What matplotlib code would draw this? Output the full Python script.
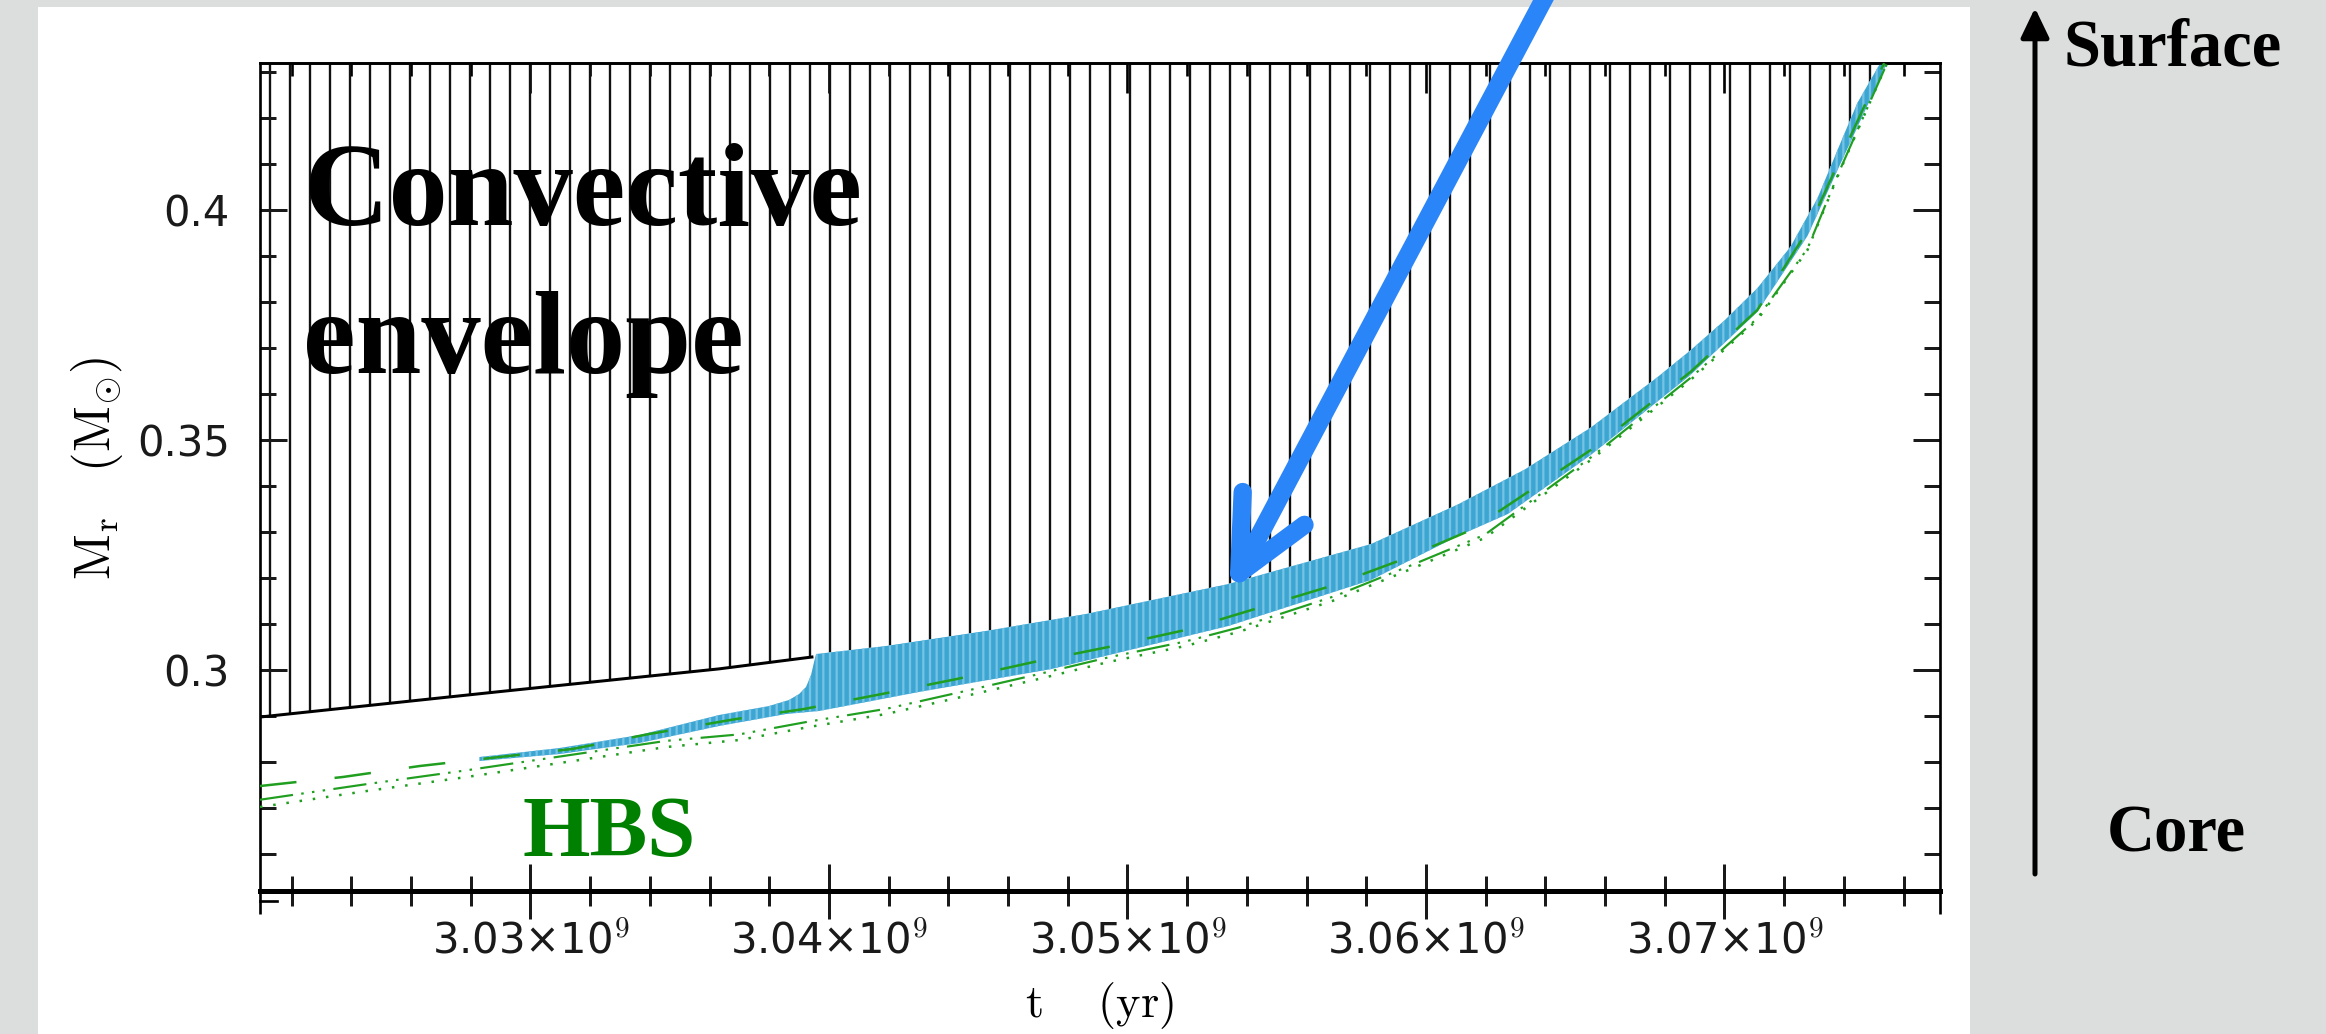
import numpy as np
import matplotlib.pyplot as plt
from matplotlib.ticker import MultipleLocator, FuncFormatter, NullFormatter
from matplotlib.patches import Rectangle, FancyArrowPatch

plt.rcParams['mathtext.fontset'] = 'cm'
plt.rcParams['font.family'] = 'DejaVu Sans'
plt.rcParams['hatch.linewidth'] = 1.4
plt.rcParams['lines.scale_dashes'] = False

# base of the convective envelope (t in Gyr, M_r in Msun)
env_t = [3.02094, 3.02896, 3.03632, 3.03943, 3.03957, 3.04191, 3.04525, 3.04860,
         3.05338, 3.05816, 3.06107, 3.06331, 3.06552, 3.06776, 3.06886, 3.07000,
         3.07110, 3.07221, 3.07311, 3.07388, 3.07445, 3.07522]
env_m = [0.28978, 0.29530, 0.30025, 0.30283, 0.30348, 0.30522, 0.30848, 0.31217,
         0.31870, 0.32739, 0.33600, 0.34360, 0.35270, 0.36370, 0.36950, 0.37600,
         0.38300, 0.39200, 0.40250, 0.41450, 0.42326, 0.43196]

# thin blue band before it joins the envelope base
band_top_t = [3.02829, 3.03097, 3.03365, 3.03632, 3.03799, 3.03866, 3.03900,
              3.03923, 3.03940, 3.03950]
band_top_m = [0.28109, 0.28304, 0.28587, 0.29022, 0.29217, 0.29348, 0.29478,
              0.29630, 0.29891, 0.30174]
band_bot_t = [3.02829, 3.03097, 3.03365, 3.03632, 3.03856, 3.03967, 3.04301,
              3.04746, 3.05338, 3.05816, 3.06107, 3.06274, 3.06552, 3.06886,
              3.07110, 3.07278, 3.07388, 3.07545]
band_bot_m = [0.28022, 0.28174, 0.28413, 0.28783, 0.29043, 0.29109, 0.29522,
              0.30022, 0.30957, 0.31957, 0.32913, 0.33391, 0.34674, 0.36413,
              0.37783, 0.39435, 0.41000, 0.43196]

# hydrogen burning shell boundaries (green)
hbs_a_t = [3.02094, 3.02371, 3.02629, 3.02896, 3.03140, 3.03398, 3.03689, 3.03916,
           3.04177, 3.04428, 3.04686, 3.04936, 3.05194, 3.05438, 3.05682, 3.05916,
           3.06151, 3.06552, 3.06886, 3.07110, 3.07278, 3.07388, 3.07535]
hbs_a_m = [0.27478, 0.27674, 0.27913, 0.28109, 0.28283, 0.28609, 0.28935, 0.29152,
           0.29478, 0.29804, 0.30174, 0.30500, 0.30870, 0.31348, 0.31826, 0.32391,
           0.33043, 0.34783, 0.36478, 0.37826, 0.39550, 0.41120, 0.43196]
hbs_c_t = [3.02094, 3.02452, 3.02786, 3.03120, 3.03455, 3.03699, 3.03933, 3.04191,
           3.04458, 3.04702, 3.04936, 3.05194, 3.05371, 3.05696, 3.05950, 3.06197,
           3.06552, 3.06886, 3.07110, 3.07278, 3.07388, 3.07545]
hbs_c_m = [0.27022, 0.27370, 0.27674, 0.28000, 0.28326, 0.28478, 0.28761, 0.29043,
           0.29435, 0.29804, 0.30174, 0.30522, 0.30826, 0.31522, 0.32196, 0.32870,
           0.34565, 0.36304, 0.37609, 0.39130, 0.40870, 0.43196]
hbs_b_m = [0.27180, 0.27520, 0.27820, 0.28140, 0.28460, 0.28600, 0.28880, 0.29155,
           0.29545, 0.29910, 0.30275, 0.30620, 0.30920, 0.31610, 0.32275, 0.32940,
           0.34620, 0.36350, 0.37645, 0.39160, 0.40890, 0.43196]

arrow_tip = (3.05341, 0.31696)

W, H, DPI = 2326, 1034, 120
fig = plt.figure(figsize=(W / DPI, H / DPI), dpi=DPI, facecolor='#dcdddd')
fig.add_artist(Rectangle((38 / W, 0), (1970 - 38) / W, (H - 7) / H,
                         transform=fig.transFigure, facecolor='white',
                         edgecolor='none', zorder=-5))

ax = fig.add_axes([260 / W, (H - 891) / H, 1680 / W, 828 / H])
ax.set_facecolor('white')

te = np.array(env_t) * 1e9
me = np.array(env_m)

# convective envelope: vertical hatching above the base
ax.fill(np.r_[te, te[-1], te[0]], np.r_[me, 0.45, 0.45], facecolor='none',
        edgecolor='#111111', hatch='|', linewidth=0, zorder=1)

# blue band
top_t = np.r_[band_top_t, env_t[4:]] * 1e9
top_m = np.r_[band_top_m, env_m[4:]]
bt = np.array(band_bot_t) * 1e9
bm = np.array(band_bot_m)
ax.fill(np.r_[top_t, bt[::-1]], np.r_[top_m, bm[::-1]], facecolor='#3ca5d2',
        edgecolor='#74c2e4', hatch='|||', linewidth=0, zorder=2)

ax.plot(te[:4], me[:4], color='black', lw=1.8, zorder=3)

green = '#1f9e1f'
ax.plot(np.array(hbs_a_t) * 1e9, hbs_a_m, color=green, lw=1.5, dashes=(22, 23), zorder=4)
ax.plot(np.array(hbs_c_t) * 1e9, hbs_b_m, color=green, lw=1.3,
        dashes=(20, 5, 1.5, 5, 1.5, 5, 1.5, 5), zorder=4)
ax.plot(np.array(hbs_c_t) * 1e9, hbs_c_m, color=green, lw=1.5, dashes=(1.5, 6.5), zorder=4)

ax.set_xlim(3.02094e9, 3.07722e9)
ax.set_ylim(0.25196, 0.43196)

ax.xaxis.set_major_locator(MultipleLocator(1e7))
ax.xaxis.set_minor_locator(MultipleLocator(2e6))
ax.xaxis.set_major_formatter(FuncFormatter(lambda v, p: f'{v / 1e9:.2f}×10$^{{9}}$'))
ax.yaxis.set_major_locator(MultipleLocator(0.05))
ax.yaxis.set_minor_locator(MultipleLocator(0.01))
ax.yaxis.set_major_formatter(FuncFormatter(lambda v, p: f'{v:g}'))

ax.tick_params(axis='x', which='both', direction='inout', top=False, width=1.8,
               labelsize=25, pad=1, colors='#1a1a1a')
ax.tick_params(axis='x', which='major', length=33)
ax.tick_params(axis='x', which='minor', length=18)
ax.tick_params(axis='y', which='both', direction='in', left=True, right=True,
               width=1.8, labelsize=25, pad=18, colors='#1a1a1a')
ax.tick_params(axis='y', which='major', length=16)
ax.tick_params(axis='y', which='minor', length=9.5)

ax.spines['bottom'].set_linewidth(3)
for s in ['left', 'right', 'top']:
    ax.spines[s].set_linewidth(1.6)

topax = ax.secondary_xaxis('top')
topax.xaxis.set_major_locator(MultipleLocator(1e7))
topax.xaxis.set_minor_locator(MultipleLocator(2e6))
topax.xaxis.set_major_formatter(NullFormatter())
topax.tick_params(which='both', direction='in', width=1.6, labeltop=False)
topax.tick_params(which='major', length=18)
topax.tick_params(which='minor', length=8)
topax.spines['top'].set_linewidth(1.6)

# spine stubs below the time axis
for xa in (0, 1):
    ax.plot([xa, xa], [0, -0.028], transform=ax.transAxes, color='black', lw=1.6,
            clip_on=False, solid_capstyle='butt')
ax.plot([0, 0.0101], [-0.012, -0.012], transform=ax.transAxes, color='black',
        lw=1.6, clip_on=False)

ax.set_xlabel(r'$\mathrm{t\quad\ (yr)}$', fontsize=28)
ax.xaxis.set_label_coords(0.5, -0.108)
ax.set_ylabel(r'$\mathrm{M_r\ \ \ (M_{\odot})}$', fontsize=30)
ax.yaxis.set_label_coords(-0.0804, 0.51)

serif = 'Liberation Serif'
fig.text(303 / W, (H - 225) / H, 'Convective', fontsize=71, fontweight='bold',
         family=serif, ha='left', va='baseline', zorder=5)
fig.text(303 / W, (H - 373) / H, 'envelope', fontsize=71, fontweight='bold',
         family=serif, ha='left', va='baseline', zorder=5)
fig.text(523 / W, (H - 856) / H, 'HBS', fontsize=52, fontweight='bold',
         family=serif, color='#008000', ha='left', va='baseline', zorder=5)

fig.text(2173 / W, (H - 66) / H, 'Surface', fontsize=40, fontweight='bold',
         family=serif, ha='center', va='baseline')
fig.text(2176 / W, (H - 851) / H, 'Core', fontsize=40, fontweight='bold',
         family=serif, ha='center', va='baseline')
fig.add_artist(FancyArrowPatch((2035 / W, (H - 874) / H), (2035 / W, (H - 8) / H),
                               transform=fig.transFigure,
                               arrowstyle='-|>,head_length=0.75,head_width=0.36',
                               mutation_scale=20, lw=3, color='black',
                               shrinkA=0, shrinkB=0))

ax.annotate('', xy=(arrow_tip[0] * 1e9, arrow_tip[1]), xycoords='data',
            xytext=(1554, 1054), textcoords='figure pixels',
            arrowprops=dict(arrowstyle='->,head_length=4.4,head_width=2.1',
                            lw=11, color='#2a85f8', shrinkA=0, shrinkB=0,
                            capstyle='round', joinstyle='round', mutation_scale=10),
            annotation_clip=False, zorder=6)

fig.savefig('out.png', dpi=DPI, facecolor=fig.get_facecolor())
